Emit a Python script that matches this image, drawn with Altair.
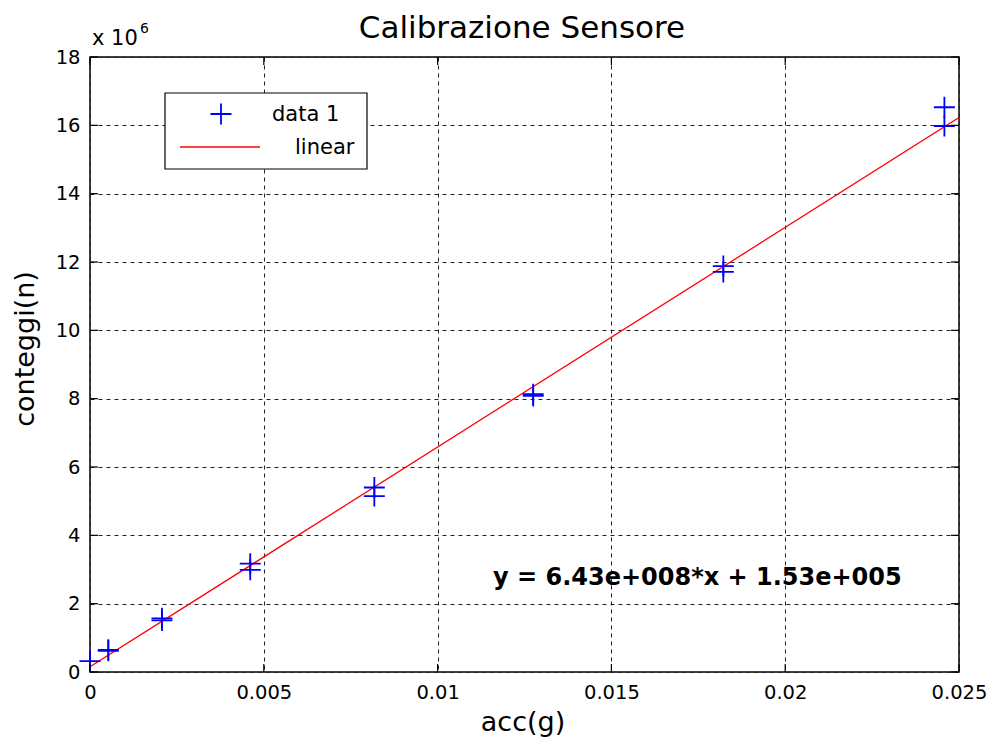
import altair as alt
import pandas as pd

# ---- data ----
acc_g = [0.0, 0.000527, 0.000527, 0.00207, 0.00207, 0.00461, 0.00461,
         0.00818, 0.00818, 0.01275, 0.01275, 0.01822, 0.01822, 0.02458, 0.02458]
conteggi = [0.32e6, 0.65e6, 0.62e6, 1.57e6, 1.51e6, 3.17e6, 2.99e6,
            5.40e6, 5.15e6, 8.13e6, 8.08e6, 11.88e6, 11.71e6, 16.53e6, 15.98e6]
fit_x = [0.0, 0.025]
fit_y = [0.153e6, 16.228e6]
x_ticks = [0.0, 0.005, 0.01, 0.015, 0.02, 0.025]
y_ticks = [0, 2e6, 4e6, 6e6, 8e6, 10e6, 12e6, 14e6, 16e6, 18e6]

title_text = "Calibrazione Sensore"
x_title = "acc(g)"
y_title = "conteggi(n)"
legend_labels = ["data 1", "linear"]
fit_label = "y = 6.43e+008*x + 1.53e+005"

W, H = 869, 615
FONT = "DejaVu Sans"
PLUS = "M-1,0L1,0M0,-1L0,1"

pts = pd.DataFrame({"x": acc_g, "y": conteggi})
fit = pd.DataFrame({"x": fit_x, "y": fit_y})
xt = pd.DataFrame({"x": x_ticks})
yt = pd.DataFrame({"y": y_ticks})
one = pd.DataFrame({"k": [0]})

xscale = alt.Scale(domain=[0, 0.025], nice=False, zero=False)
yscale = alt.Scale(domain=[0, 18e6], nice=False)
xaxis = alt.Axis(values=x_ticks, format="~g", title=None, grid=True,
                 labelPadding=11, labelFlush=False)
yaxis = alt.Axis(values=y_ticks, labelExpr="datum.value / 1e6", title=None,
                 grid=True, labelPadding=10, labelFlush=False)
X = alt.X("x:Q", scale=xscale, axis=xaxis)
Y = alt.Y("y:Q", scale=yscale, axis=yaxis)

line = alt.Chart(fit).mark_line(color="#FF0000", strokeWidth=1.3, clip=True).encode(x=X, y=Y)
points = alt.Chart(pts).mark_point(shape=PLUS, filled=False, color="#0000FF",
                                   size=440, strokeWidth=1.8, opacity=1).encode(x=X, y=Y)

tick_kw = dict(color="#000000", strokeWidth=1.2)
tb = alt.Chart(xt).mark_rule(**tick_kw).encode(x=X, y=alt.value(H), y2=alt.value(H - 8))
tt = alt.Chart(xt).mark_rule(**tick_kw).encode(x=X, y=alt.value(0), y2=alt.value(8))
tl = alt.Chart(yt).mark_rule(**tick_kw).encode(y=Y, x=alt.value(0), x2=alt.value(8))
tr = alt.Chart(yt).mark_rule(**tick_kw).encode(y=Y, x=alt.value(W - 8), x2=alt.value(W))

# legend (MATLAB style box)
leg_box = alt.Chart(one).mark_rect(fill="white", stroke="black", strokeWidth=1.2).encode(
    x=alt.value(75), x2=alt.value(277), y=alt.value(36), y2=alt.value(112))
leg_pt = alt.Chart(one).mark_point(shape=PLUS, filled=False, color="#0000FF",
                                   size=440, strokeWidth=1.8, opacity=1).encode(
    x=alt.value(131), y=alt.value(57))
leg_ln = alt.Chart(one).mark_rule(color="#FF0000", strokeWidth=1.3).encode(
    x=alt.value(90), x2=alt.value(170), y=alt.value(90))
leg_t1 = alt.Chart(one).mark_text(text=legend_labels[0], font=FONT, fontSize=21,
                                  align="left", baseline="middle", color="black").encode(
    x=alt.value(182), y=alt.value(58))
leg_t2 = alt.Chart(one).mark_text(text=legend_labels[1], font=FONT, fontSize=21,
                                  align="left", baseline="middle", color="black").encode(
    x=alt.value(205), y=alt.value(91))

annot = alt.Chart(one).mark_text(text=fit_label, font=FONT, fontSize=24, fontWeight="bold",
                                 align="left", baseline="alphabetic", color="black").encode(
    x=alt.value(403), y=alt.value(528))
ttl = alt.Chart(one).mark_text(text=title_text, font=FONT, fontSize=31,
                               align="center", baseline="alphabetic", color="black").encode(
    x=alt.value(432), y=alt.value(-19))
xlab = alt.Chart(one).mark_text(text=x_title, font=FONT, fontSize=27,
                                align="center", baseline="alphabetic", color="black").encode(
    x=alt.value(433), y=alt.value(674))
ylab = alt.Chart(one).mark_text(text=y_title, font=FONT, fontSize=27, angle=270,
                                align="center", baseline="middle", color="black").encode(
    x=alt.value(-64), y=alt.value(292))
exp1 = alt.Chart(one).mark_text(text="x 10", font=FONT, fontSize=21,
                                align="left", baseline="alphabetic", color="black").encode(
    x=alt.value(2), y=alt.value(-12))
exp2 = alt.Chart(one).mark_text(text="6", font=FONT, fontSize=14,
                                align="left", baseline="alphabetic", color="black").encode(
    x=alt.value(50), y=alt.value(-24))

chart = alt.layer(
    line, points, tb, tt, tl, tr,
    leg_box, leg_pt, leg_ln, leg_t1, leg_t2,
    annot, ttl, xlab, ylab, exp1, exp2,
).properties(
    width=W, height=H,
    autosize=alt.AutoSizeParams(type="none"),
    padding={"left": 82, "top": 49, "right": 28, "bottom": 65},
    background="white",
).configure_view(
    stroke="#000000", strokeWidth=1.5
).configure_axis(
    domain=False, ticks=False, tickSize=0,
    gridDash=[4, 4], gridColor="#222222", gridOpacity=1, gridWidth=1,
    labelFont=FONT, labelFontSize=19.5, labelColor="#000000",
)

chart.save("out.html", embed_options={"renderer": "svg", "actions": False})
